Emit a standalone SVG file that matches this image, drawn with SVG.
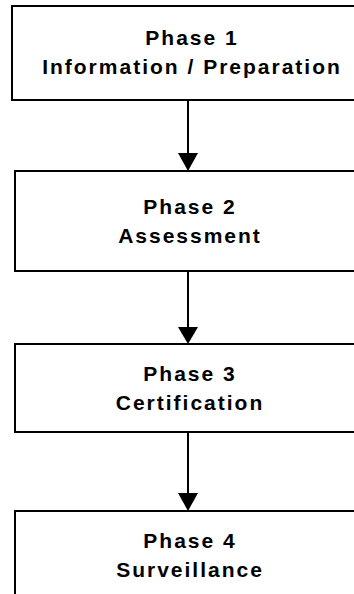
<svg xmlns="http://www.w3.org/2000/svg" width="354" height="594" viewBox="0 0 354 594">
<style>
.box{fill:#fff;stroke:#000;stroke-width:2}
.t{font-family:"Liberation Sans",Arial,sans-serif;font-weight:bold;font-size:21px;letter-spacing:2px;text-anchor:middle;fill:#000}
.c{stroke:#000;stroke-width:2;fill:none}
.ah{fill:#000}
</style>
<rect width="354" height="594" fill="#fff"/>
<g id="connectors">
<line class="c" x1="188" y1="100" x2="188" y2="154"/>
<polygon class="ah" points="178,153 198,153 188,171"/>
<line class="c" x1="188" y1="271" x2="188" y2="328"/>
<polygon class="ah" points="178,327 198,327 188,344"/>
<line class="c" x1="188" y1="432" x2="188" y2="494"/>
<polygon class="ah" points="178,493 198,493 188,511"/>
</g>
<g id="phase1">
<rect class="box" x="12" y="6" width="360" height="94"/>
<text class="t" x="192" y="45">Phase 1</text>
<text class="t" x="192" y="74">Information / Preparation</text>
</g>
<g id="phase2">
<rect class="box" x="15" y="171" width="360" height="100"/>
<text class="t" x="190" y="214">Phase 2</text>
<text class="t" x="190" y="243">Assessment</text>
</g>
<g id="phase3">
<rect class="box" x="15" y="344" width="360" height="88"/>
<text class="t" x="190" y="381">Phase 3</text>
<text class="t" x="190" y="410">Certification</text>
</g>
<g id="phase4">
<rect class="box" x="15" y="511" width="360" height="100"/>
<text class="t" x="190" y="548">Phase 4</text>
<text class="t" x="190" y="577">Surveillance</text>
</g>
</svg>
